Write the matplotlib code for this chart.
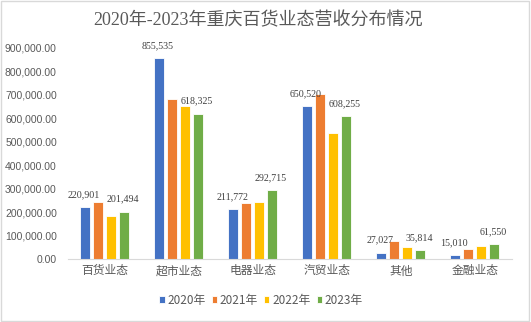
import numpy as np
import matplotlib.pyplot as plt
from matplotlib.patches import Rectangle
from matplotlib.ticker import FuncFormatter

plt.rcParams['font.family'] = ['Noto Sans CJK SC', 'DejaVu Sans']

categories = ['百货业态', '超市业态', '电器业态', '汽贸业态', '其他', '金融业态']
years = ['2020年', '2021年', '2022年', '2023年']
v2020 = [220901, 855535, 211772, 650520, 27027, 15010]
v2021 = [243000, 681000, 239000, 702000, 78000, 44000]
v2022 = [183000, 651000, 243000, 536000, 51000, 57000]
v2023 = [201494, 618325, 292715, 608255, 35814, 61550]
series = [v2020, v2021, v2022, v2023]
colors = ['#4472C4', '#ED7D31', '#FFC000', '#70AD47']

fig = plt.figure(figsize=(5.31, 3.22), dpi=100)
fig.patches.append(Rectangle((0.002, 0.003), 0.995, 0.993, transform=fig.transFigure,
                             fill=False, edgecolor='#D9D9D9', linewidth=1))
ax = fig.add_axes([0.128, 0.196, 0.836, 0.655])

x = np.arange(len(categories))
w = 0.135
step = 0.176
for i, vals in enumerate(series):
    pos = x + (i - 1.5) * step
    ax.bar(pos, vals, width=w, color=colors[i], edgecolor='white',
           linewidth=0.6, label=years[i])
    # only the first and last year carry value labels
    if i in (0, 3):
        for p, v in zip(pos, vals):
            ax.annotate(f'{v:,}', (p, v), xytext=(-1, 6), textcoords='offset points',
                        ha='center', va='bottom', fontsize=7.2, color='#404040',
                        family=['Liberation Serif', 'DejaVu Serif'])

ax.set_xlim(-0.5, len(categories) - 0.5)
ax.set_ylim(0, 900000)
ax.set_yticks(np.arange(0, 900001, 100000))
ax.yaxis.set_major_formatter(FuncFormatter(lambda v, p: f'{v:,.2f}'))
ax.set_xticks(x)
ax.set_xticklabels(categories)
ax.tick_params(axis='both', length=0, colors='#595959')
ax.tick_params(axis='y', labelsize=7.5, pad=8)
ax.tick_params(axis='x', labelsize=8.5, pad=4)
for lab in ax.get_yticklabels():
    lab.set_family(['Liberation Sans', 'DejaVu Sans'])
for s in ['top', 'right', 'left']:
    ax.spines[s].set_visible(False)
ax.spines['bottom'].set_color('#D9D9D9')

fig.text(0.486, 0.937, '2020年-2023年重庆百货业态营收分布情况', ha='center', va='center',
         fontsize=13, color='#595959', family=['Liberation Serif', 'Noto Sans CJK SC'])

ax.legend(loc='upper center', bbox_to_anchor=(0.435, -0.115), ncol=4, frameon=False,
          fontsize=8.5, handlelength=0.45, handleheight=0.45, handletextpad=0.25,
          columnspacing=0.5, labelcolor='#595959')

fig.savefig('out.png', dpi=100)
